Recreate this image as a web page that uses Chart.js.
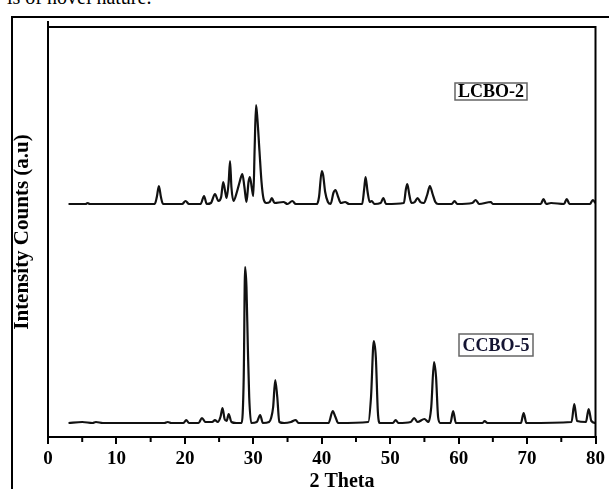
<!DOCTYPE html>
<html>
<head>
<meta charset="utf-8">
<script src="https://cdn.jsdelivr.net/npm/chart.js@4.4.1/dist/chart.umd.min.js"></script>
<style>
  html, body { margin: 0; padding: 0; background: #fff; overflow: hidden; }
  #wrap { position: relative; width: 609px; height: 489px; }
  #frame { position: absolute; left: 11px; top: 16px; width: 640px; height: 520px; border: 2px solid #000; }
  #caption { position: absolute; left: -8px; top: -14px; font: 20px "Liberation Serif", serif; color: #000; white-space: nowrap; }
  canvas { position: absolute; left: 0; top: 0; }
</style>
</head>
<body>
<div id="wrap">
  <div id="caption">y is of novel nature.</div>
  <div id="frame"></div>
  <canvas id="xrd" width="609" height="489"></canvas>
</div>
<script>
// 2 theta (deg) and intensity (a.u.)
const lcboTheta = [3.0, 5.5, 5.8, 6.1, 10.0, 15.6, 15.9, 16.2, 16.5, 16.8, 19.6, 20.1, 20.6, 22.3, 22.8, 23.2,
  23.8, 24.4, 24.9, 25.3, 25.6, 25.9, 26.1, 26.4, 26.6, 26.8, 27.1, 27.6, 28.0, 28.4, 28.7, 29.0, 29.3, 29.5,
  29.8, 30.0, 30.2, 30.4, 30.6, 30.9, 31.2, 31.5, 31.9, 32.4, 32.7, 33.1, 34.4, 35.0, 35.7, 36.2, 39.3, 39.6,
  40.0, 40.2, 40.5, 40.9, 41.3, 41.7, 42.0, 42.4, 42.8, 43.4, 44.0, 45.9, 46.2, 46.4, 46.7, 47.0, 47.3, 47.7,
  48.6, 49.0, 49.4, 52.0, 52.3, 52.5, 52.8, 53.1, 53.6, 54.0, 54.4, 54.9, 55.4, 55.8, 56.2, 56.6, 57.0, 59.0,
  59.4, 59.8, 62.0, 62.5, 63.0, 64.7, 65.0, 72.0, 72.4, 72.8, 73.5, 75.4, 75.8, 76.2, 79.2, 79.6, 80.0];
const lcboCounts = [233, 233, 234, 233, 233, 233, 240, 251, 240, 233, 233, 236, 233, 233, 241, 233,
  234, 243, 236, 240, 255, 245, 239, 255, 276, 250, 236, 245, 255, 263, 250, 235, 255, 260,
  248, 241, 290, 332, 318, 286, 255, 238, 234, 235, 239, 234, 235, 233, 236, 233, 233, 240,
  266, 262, 245, 235, 233, 244, 247, 240, 234, 235, 233, 233, 248, 260, 245, 235, 236, 233,
  234, 239, 233, 234, 248, 253, 242, 234, 235, 239, 235, 234, 242, 251, 243, 235, 233, 233,
  236, 233, 234, 237, 233, 235, 233, 233, 238, 233, 234, 233, 238, 233, 233, 237, 234];

const ccboTheta = [3.0, 5.0, 6.5, 7.0, 8.0, 17.0, 17.5, 18.0, 19.8, 20.2, 20.6, 22.0, 22.5, 23.0, 24.0, 24.4,
  24.8, 25.2, 25.5, 25.8, 26.1, 26.4, 26.8, 27.5, 28.3, 28.6, 28.8, 29.0, 29.2, 29.4, 29.7, 30.5, 31.0, 31.4,
  32.3, 32.6, 32.9, 33.2, 33.5, 33.8, 34.5, 35.5, 36.2, 36.6, 41.0, 41.6, 42.0, 42.4, 46.8, 47.2, 47.6, 47.9,
  48.2, 48.5, 50.4, 50.8, 51.2, 53.0, 53.5, 54.0, 55.0, 55.6, 56.0, 56.4, 56.7, 57.0, 57.3, 58.8, 59.2, 59.6,
  63.5, 63.8, 64.2, 69.1, 69.5, 69.9, 76.5, 76.9, 77.3, 78.6, 79.0, 79.4, 80.0];
const ccboCounts = [14, 15, 14, 15, 14, 14, 15, 14, 14, 17, 14, 14, 19, 15, 15, 17,
  15, 20, 29, 18, 16, 23, 15, 14, 14, 60, 170, 150, 90, 40, 14, 15, 22, 14,
  15, 19, 30, 57, 40, 15, 14, 15, 17, 14, 14, 26, 20, 14, 15, 40, 96, 80,
  25, 14, 14, 17, 14, 15, 19, 15, 18, 15, 30, 75, 60, 20, 14, 14, 26, 14,
  14, 16, 14, 14, 24, 14, 15, 33, 16, 15, 28, 16, 14];

const xTickLabels = [0, 10, 20, 30, 40, 50, 60, 70, 80];
const sampleNames = ["LCBO-2", "CCBO-5"];

const serif = '"Liberation Serif", "Times New Roman", serif';
const toPoints = (xs, ys) => xs.map((x, i) => ({ x: x, y: ys[i] }));

// frame, minor ticks, sample tags and x title
const decorPlugin = {
  id: "decor",
  afterDraw(chart) {
    const ctx = chart.ctx;
    const a = chart.chartArea;
    const xs = chart.scales.x;
    ctx.save();
    ctx.strokeStyle = "#000";
    ctx.lineWidth = 2;
    ctx.strokeRect(a.left, a.top, a.right - a.left, a.bottom - a.top);
    ctx.beginPath();
    ctx.moveTo(a.left, a.top - 6);
    ctx.lineTo(a.left, a.top);
    ctx.stroke();
    // minor ticks at 5, 15, ...
    for (let v = 5; v < 80; v += 10) {
      const px = xs.getPixelForValue(v);
      ctx.beginPath();
      ctx.moveTo(px, a.bottom);
      ctx.lineTo(px, a.bottom + 5);
      ctx.stroke();
    }
    // sample tags
    const tags = [
      { text: sampleNames[0], x: 455, y: 83, w: 72, h: 17, color: "#000" },
      { text: sampleNames[1], x: 459, y: 334, w: 74, h: 22, color: "#141432" }
    ];
    tags.forEach(t => {
      ctx.fillStyle = "#fff";
      ctx.fillRect(t.x, t.y, t.w, t.h);
      ctx.lineWidth = 1.5;
      ctx.strokeStyle = "#666";
      ctx.strokeRect(t.x, t.y, t.w, t.h);
      ctx.fillStyle = t.color;
      ctx.font = "bold 18px " + serif;
      ctx.textAlign = "center";
      ctx.textBaseline = "middle";
      ctx.fillText(t.text, t.x + t.w / 2, t.y + t.h / 2 + 1);
    });
    ctx.fillStyle = "#000";
    ctx.font = "bold 20px " + serif;
    ctx.textAlign = "center";
    ctx.textBaseline = "alphabetic";
    ctx.fillText("2 Theta", 342, 487);
    ctx.restore();
  }
};

new Chart(document.getElementById("xrd"), {
  type: "line",
  data: {
    datasets: [
      {
        label: sampleNames[0],
        data: toPoints(lcboTheta, lcboCounts),
        borderColor: "#111",
        borderWidth: 2.2,
        pointRadius: 0,
        cubicInterpolationMode: "monotone"
      },
      {
        label: sampleNames[1],
        data: toPoints(ccboTheta, ccboCounts),
        borderColor: "#111",
        borderWidth: 2.2,
        pointRadius: 0,
        cubicInterpolationMode: "monotone"
      }
    ]
  },
  options: {
    responsive: false,
    animation: false,
    devicePixelRatio: 1,
    layout: { padding: { top: 27, right: 4, left: 0, bottom: 0 } },
    plugins: {
      legend: { display: false },
      tooltip: { enabled: false }
    },
    scales: {
      x: {
        type: "linear",
        min: 0,
        max: 80,
        afterFit: s => { s.height = 52; },
        afterBuildTicks: s => { s.ticks = xTickLabels.map(v => ({ value: v })); },
        border: { color: "#000", width: 2 },
        grid: { drawOnChartArea: false, color: "#000", lineWidth: 2, tickLength: 7 },
        ticks: {
          color: "#000",
          padding: 4,
          maxRotation: 0,
          autoSkip: false,
          font: { family: serif, size: 19, weight: "bold" }
        }
      },
      y: {
        min: 0,
        max: 410,
        afterFit: s => { s.width = 48; },
        border: { color: "#000", width: 2 },
        grid: { display: false },
        ticks: { display: false },
        title: {
          display: true,
          text: "Intensity Counts (a.u)",
          color: "#000",
          padding: { top: 10, bottom: 0 },
          font: { family: serif, size: 21, weight: "bold" }
        }
      }
    }
  },
  plugins: [decorPlugin]
});
</script>
</body>
</html>
